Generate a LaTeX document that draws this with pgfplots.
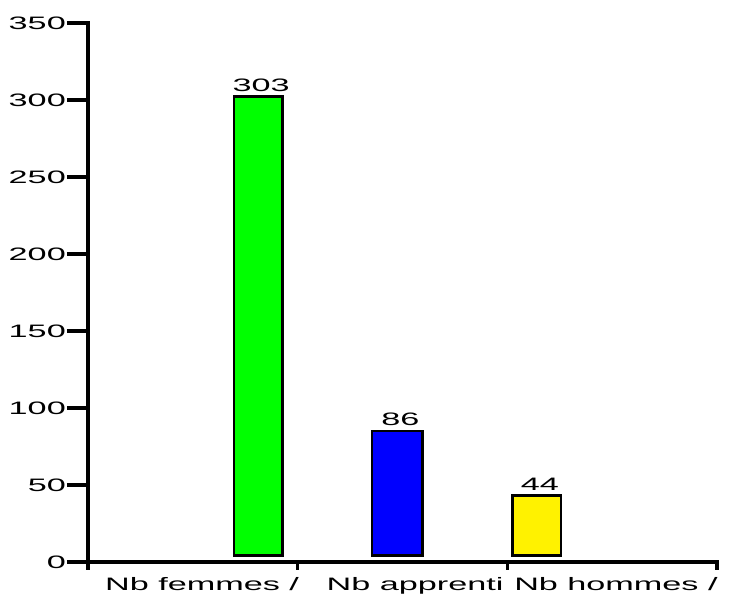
\documentclass[border=0pt]{standalone}
\usepackage{fontspec}
\setmainfont{Liberation Sans}[FakeStretch=1.9]
\usepackage{pgfplots}
\pgfplotsset{compat=1.18}
\newcommand\lblfont{\fontsize{18}{20}\selectfont}
\begin{document}
\begin{tikzpicture}
\useasboundingbox (0,0) rectangle (734pt,596pt);
\begin{axis}[
  at={(88pt,34pt)}, anchor=south west,
  scale only axis, width=629pt, height=539pt,
  xmin=0, xmax=3, ymin=0, ymax=350,
  clip=false,
  axis x line*=bottom, axis y line*=left,
  axis line style={line width=4pt, -, line cap=rect},
  every outer x axis line/.append style={line width=4pt},
  every outer y axis line/.append style={line width=4pt},
  ytick={0,50,...,350},
  xtick={0,1,2,3}, xticklabels={},
  extra x ticks={0.544,1.56,2.518},
  extra x tick labels={Nb femmes /, Nb apprenti, Nb hommes /},
  extra x tick style={tick style={draw=none}, xticklabel style={yshift=6pt}},
  tick align=outside,
  major tick length=21pt,
  xtick style={/pgfplots/major tick length=8pt},
  major tick style={line width=3.5pt, black},
  tick style={line width=3.5pt, black},
  /pgf/number format/assume math mode=true,
  ticklabel style={font=\lblfont},
  yticklabel style={anchor=east, inner sep=1pt},
  xticklabel style={anchor=north, inner sep=0pt},
  every node near coord/.append style={font=\lblfont, anchor=base, yshift=4pt, xshift=3pt, inner sep=0pt, black},
]
\addplot[ycomb, mark=none, draw=black, line width=51pt, shorten <=5pt, nodes near coords] coordinates {(0.811,303)};
\addplot[ycomb, mark=none, draw=green, line width=46pt, shorten <=7.5pt, shorten >=2.5pt] coordinates {(0.811,303)};
\addplot[ycomb, mark=none, draw=black, line width=53pt, shorten <=5pt, nodes near coords] coordinates {(1.476,86)};
\addplot[ycomb, mark=none, draw=blue, line width=48pt, shorten <=7.5pt, shorten >=2.5pt] coordinates {(1.476,86)};
\addplot[ycomb, mark=none, draw=black, line width=51pt, shorten <=5pt, nodes near coords] coordinates {(2.141,44)};
\addplot[ycomb, mark=none, draw=yellow, line width=46pt, shorten <=7.5pt, shorten >=2.5pt] coordinates {(2.141,44)};
\end{axis}
\end{tikzpicture}
\end{document}
